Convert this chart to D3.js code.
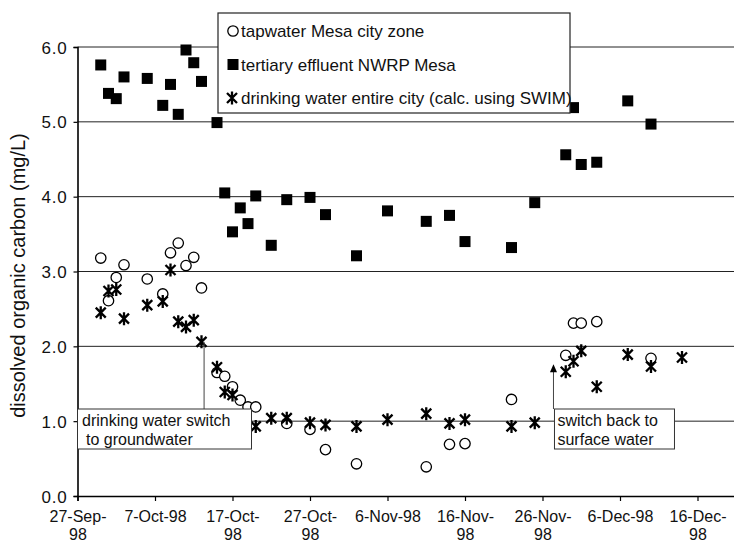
<!DOCTYPE html>
<html><head><meta charset="utf-8">
<script src="https://cdn.jsdelivr.net/npm/d3@7"></script>
<style>
body{margin:0;background:#fff}
text{font-family:Arial,"Liberation Sans",sans-serif;fill:#111}
</style>
</head><body>
<svg id="c" width="734" height="544"></svg>
<script>
// ---------- data ----------
const tapDates = ["1998-09-30","1998-10-01","1998-10-02","1998-10-03","1998-10-06","1998-10-08","1998-10-09","1998-10-10","1998-10-11","1998-10-12","1998-10-13","1998-10-15","1998-10-16","1998-10-17","1998-10-18","1998-10-19","1998-10-20","1998-10-24","1998-10-27","1998-10-29","1998-11-02","1998-11-11","1998-11-14","1998-11-16","1998-11-22","1998-11-29","1998-11-30","1998-12-01","1998-12-03","1998-12-10"];
const tapValues = [3.18,2.61,2.92,3.09,2.90,2.70,3.25,3.38,3.08,3.19,2.78,1.65,1.60,1.46,1.28,1.19,1.19,0.97,0.89,0.62,0.43,0.39,0.69,0.70,1.29,1.88,2.31,2.31,2.33,1.84];

const effDates = ["1998-09-30","1998-10-01","1998-10-02","1998-10-03","1998-10-06","1998-10-08","1998-10-09","1998-10-10","1998-10-11","1998-10-12","1998-10-13","1998-10-15","1998-10-16","1998-10-17","1998-10-18","1998-10-19","1998-10-20","1998-10-22","1998-10-24","1998-10-27","1998-10-29","1998-11-02","1998-11-06","1998-11-11","1998-11-14","1998-11-16","1998-11-22","1998-11-25","1998-11-29","1998-11-30","1998-12-01","1998-12-03","1998-12-07","1998-12-10"];
const effValues = [5.76,5.38,5.31,5.60,5.58,5.22,5.50,5.10,5.96,5.79,5.54,4.99,4.05,3.53,3.85,3.64,4.01,3.35,3.96,3.99,3.76,3.21,3.81,3.67,3.75,3.40,3.32,3.92,4.56,5.19,4.43,4.46,5.28,4.97];

const drinkDates = ["1998-09-30","1998-10-01","1998-10-02","1998-10-03","1998-10-06","1998-10-08","1998-10-09","1998-10-10","1998-10-11","1998-10-12","1998-10-13","1998-10-15","1998-10-16","1998-10-17","1998-10-20","1998-10-22","1998-10-24","1998-10-27","1998-10-29","1998-11-02","1998-11-06","1998-11-11","1998-11-14","1998-11-16","1998-11-22","1998-11-25","1998-11-29","1998-11-30","1998-12-01","1998-12-03","1998-12-07","1998-12-10","1998-12-14"];
const drinkValues = [2.45,2.74,2.76,2.37,2.55,2.60,3.02,2.33,2.26,2.35,2.06,1.72,1.39,1.35,0.93,1.04,1.04,0.98,0.95,0.93,1.02,1.10,0.97,1.02,0.93,0.98,1.66,1.80,1.94,1.46,1.89,1.73,1.85];

const seriesNames = ["tapwater Mesa city zone","tertiary effluent NWRP Mesa","drinking water entire city (calc. using SWIM)"];
const xTickDates = ["1998-09-27","1998-10-07","1998-10-17","1998-10-27","1998-11-06","1998-11-16","1998-11-26","1998-12-06","1998-12-16"];
const xTickLabels = [["27-Sep-","98"],["7-Oct-98"],["17-Oct-","98"],["27-Oct-","98"],["6-Nov-98"],["16-Nov-","98"],["26-Nov-","98"],["6-Dec-98"],["16-Dec-","98"]];
const yTicks = [0,1,2,3,4,5,6];
const yTitle = "dissolved organic carbon (mg/L)";
const note1Lines = ["drinking water switch","to groundwater"];
const note1Anchor = ["1998-10-13T08:00",2.06];
const note2Lines = ["switch back to","surface water"];
const note2Anchor = ["1998-11-27T10:00",1.76];

// ---------- scales ----------
const parse = d3.utcParse("%Y-%m-%d");
const parseT = d3.utcParse("%Y-%m-%dT%H:%M");
const svg = d3.select("#c");
const L = 77.5, B = 496, T = 47;
const x = d3.scaleUtc().domain([parse("1998-09-27"), parse("1998-12-27")]).range([L, L + 91*7.75]);
const y = d3.scaleLinear().domain([0,6]).range([B, T]);
const W = 734;

// gridlines
svg.append("g").selectAll("line").data(yTicks.filter(v=>v>0)).join("line")
  .attr("x1", L).attr("x2", W).attr("y1", d=>y(d)).attr("y2", d=>y(d))
  .attr("stroke","#222").attr("stroke-width",1);

// y axis
const yAxis = d3.axisLeft(y).tickValues(yTicks).tickSize(4).tickFormat(d3.format(".1f"));
const gy = svg.append("g").attr("transform",`translate(${L},0)`).call(yAxis);
gy.select(".domain").attr("stroke","#000").attr("stroke-width",1.6);
gy.selectAll(".tick line").attr("stroke","#000").attr("stroke-width",1.2);
gy.selectAll(".tick text").attr("x",-10).attr("dy","0.36em")
  .style("font-size","17px").style("letter-spacing","0.8px").attr("fill","#111");

// x axis
const xAxis = d3.axisBottom(x).tickValues(xTickDates.map(parse)).tickSize(5).tickFormat("");
const gx = svg.append("g").attr("transform",`translate(0,${B})`).call(xAxis);
gx.select(".domain").attr("stroke","#000").attr("stroke-width",1.6);
gx.selectAll(".tick line").attr("stroke","#000").attr("stroke-width",1.2);
gx.selectAll(".tick").each(function(d,i){
  const t = d3.select(this).append("text").attr("text-anchor","middle")
    .style("font-size","16px").attr("fill","#111");
  xTickLabels[i].forEach((s,j)=>{
    t.append("tspan").attr("x",0).attr("y", 26 + j*18).text(s);
  });
});

// y title
svg.append("text").attr("transform",`translate(25,${(T+B)/2+4}) rotate(-90)`)
  .attr("text-anchor","middle").style("font-size","20px").text(yTitle);

// markers
function starPath(cx, cy, s){
  return `M${cx-s},${cy-s}L${cx+s},${cy+s}M${cx-s},${cy+s}L${cx+s},${cy-s}M${cx},${cy-s-1.5}L${cx},${cy+s+1.5}`;
}
const tap = tapDates.map((d,i)=>({d:parse(d), v:tapValues[i]}));
const eff = effDates.map((d,i)=>({d:parse(d), v:effValues[i]}));
const drink = drinkDates.map((d,i)=>({d:parse(d), v:drinkValues[i]}));

svg.append("g").selectAll("circle").data(tap).join("circle")
  .attr("cx",d=>x(d.d)).attr("cy",d=>y(d.v)).attr("r",5.2)
  .attr("fill","#fff").attr("stroke","#000").attr("stroke-width",1.3);
svg.append("g").selectAll("rect").data(eff).join("rect")
  .attr("x",d=>x(d.d)-5.5).attr("y",d=>y(d.v)-5.5).attr("width",11).attr("height",11)
  .attr("fill","#000");
svg.append("g").selectAll("path").data(drink).join("path")
  .attr("d",d=>starPath(x(d.d), y(d.v), 5))
  .attr("fill","none").attr("stroke","#000").attr("stroke-width",2.3);

// annotation 1
const a1x = x(parseT(note1Anchor[0]));
svg.append("line").attr("x1",a1x).attr("x2",a1x).attr("y1",y(note1Anchor[1])).attr("y2",409)
  .attr("stroke","#444").attr("stroke-width",1);
svg.append("rect").attr("x",L).attr("y",409).attr("width",174).attr("height",40)
  .attr("fill","#fff").attr("stroke","#333").attr("stroke-width",1);
note1Lines.forEach((s,i)=>svg.append("text").attr("x", i? 86:82).attr("y", 426 + i*19)
  .style("font-size","16px").text(s));

// annotation 2
const a2x = x(parseT(note2Anchor[0]));
const tipY = y(note2Anchor[1]);
svg.append("line").attr("x1",a2x).attr("x2",a2x).attr("y1",tipY+6).attr("y2",409)
  .attr("stroke","#444").attr("stroke-width",1);
svg.append("path").attr("d",`M${a2x},${tipY}L${a2x-3.5},${tipY+8}L${a2x+3.5},${tipY+8}Z`).attr("fill","#000");
svg.append("rect").attr("x",a2x+1).attr("y",409).attr("width",120).attr("height",40)
  .attr("fill","#fff").attr("stroke","#333").attr("stroke-width",1);
note2Lines.forEach((s,i)=>svg.append("text").attr("x", a2x+4).attr("y", 426 + i*19)
  .style("font-size","16px").text(s));

// legend
const lg = svg.append("g");
lg.append("rect").attr("x",218).attr("y",13).attr("width",352).attr("height",100)
  .attr("fill","#fff").attr("stroke","#222").attr("stroke-width",1.2);
const rowY = [31, 64.5, 98];
lg.append("circle").attr("cx",233).attr("cy",rowY[0]).attr("r",5.2)
  .attr("fill","#fff").attr("stroke","#000").attr("stroke-width",1.3);
lg.append("rect").attr("x",227.5).attr("y",rowY[1]-5.5).attr("width",11).attr("height",11).attr("fill","#000");
lg.append("path").attr("d",starPath(232,rowY[2],5)).attr("fill","none").attr("stroke","#000").attr("stroke-width",2.3);
seriesNames.forEach((s,i)=>lg.append("text").attr("x",241).attr("y",rowY[i]+6)
  .style("font-size","17px").text(s));
</script>
</body></html>
